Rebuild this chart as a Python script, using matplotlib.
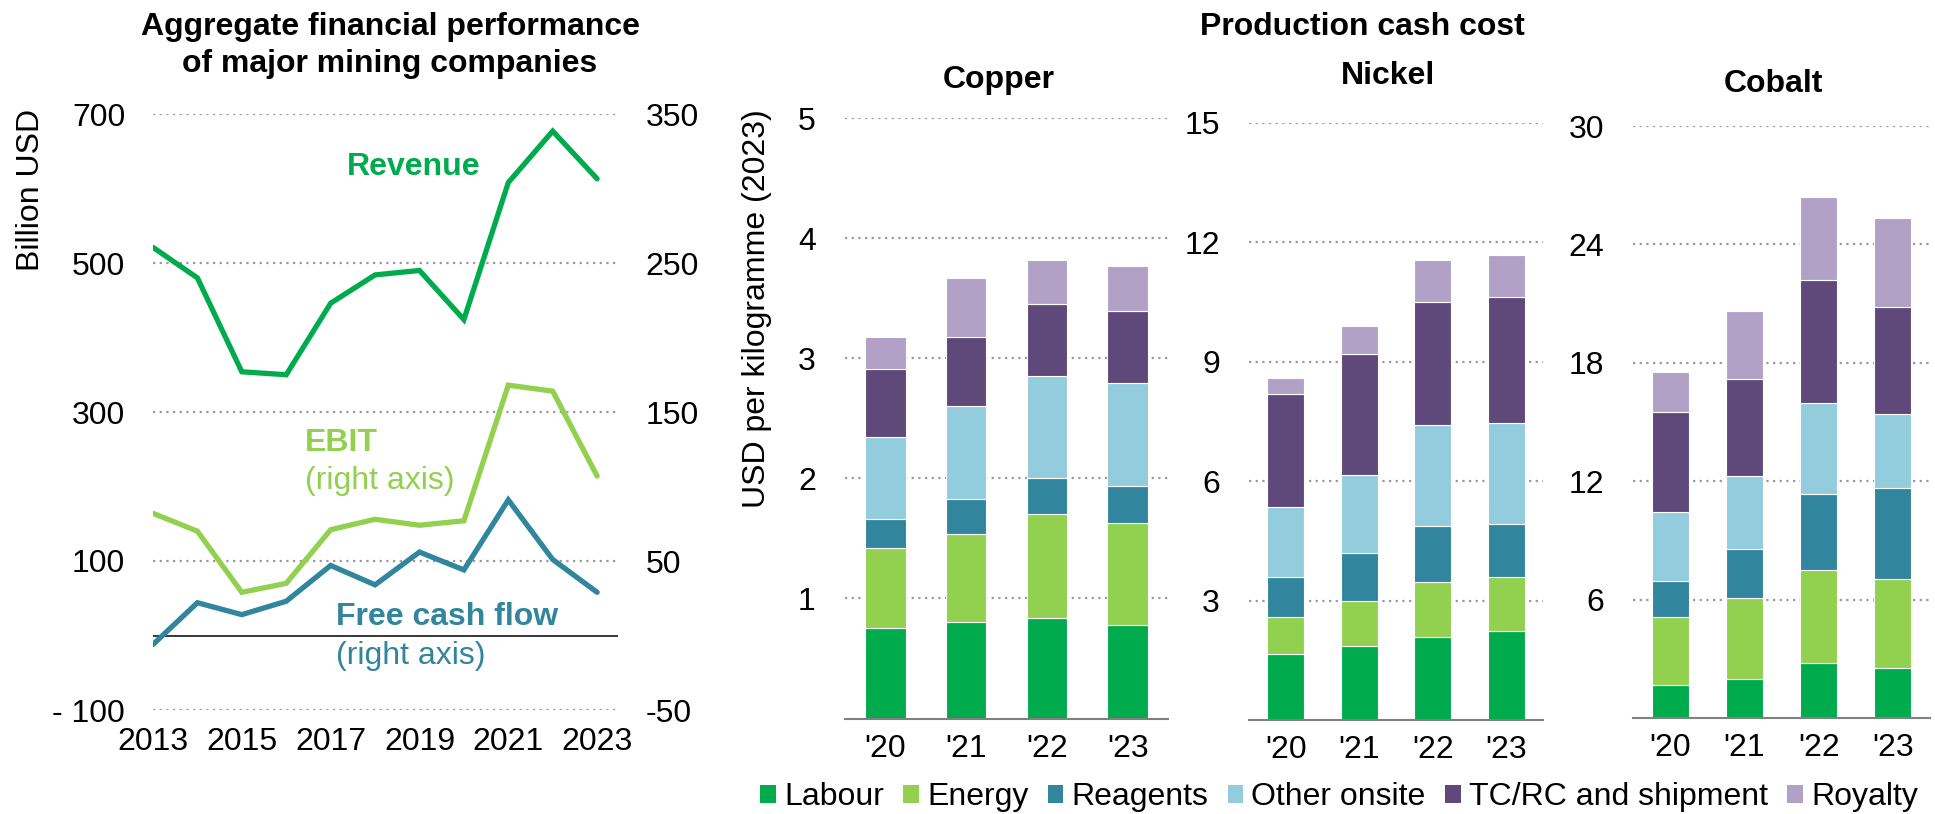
import matplotlib
matplotlib.use("Agg")
import matplotlib.pyplot as plt
from matplotlib.patches import Patch
import numpy as np

plt.rcParams['font.family'] = ['Liberation Sans', 'DejaVu Sans']
plt.rcParams['axes.unicode_minus'] = False
FS = 23

# ---- data: aggregate financial performance ----
years = [2013, 2014, 2015, 2016, 2017, 2018, 2019, 2020, 2021, 2022, 2023]
revenue = [521, 480, 354, 350, 446, 484, 490, 424, 608, 677, 613]      # left axis
ebit = [82, 70, 29, 35, 71, 78, 74, 77, 168, 164, 107]                 # right axis
free_cash_flow = [-6, 22, 14, 23, 47, 34, 56, 44, 91, 51, 29]          # right axis

# ---- data: production cash cost (USD/kg, 2023) ----
bar_years = ["'20", "'21", "'22", "'23"]
components = ["Labour", "Energy", "Reagents", "Other onsite", "TC/RC and shipment", "Royalty"]

copper_labour = [0.75, 0.80, 0.84, 0.78]
copper_energy = [0.67, 0.74, 0.86, 0.85]
copper_reagents = [0.24, 0.29, 0.30, 0.31]
copper_other = [0.68, 0.77, 0.85, 0.85]
copper_tcrc = [0.57, 0.58, 0.60, 0.60]
copper_royalty = [0.27, 0.49, 0.37, 0.38]

nickel_labour = [1.65, 1.87, 2.09, 2.24]
nickel_energy = [0.93, 1.11, 1.37, 1.35]
nickel_reagents = [1.01, 1.21, 1.41, 1.34]
nickel_other = [1.76, 1.97, 2.53, 2.52]
nickel_tcrc = [2.83, 3.03, 3.11, 3.19]
nickel_royalty = [0.42, 0.72, 1.05, 1.05]

cobalt_labour = [1.66, 2.00, 2.81, 2.55]
cobalt_energy = [3.44, 4.10, 4.71, 4.49]
cobalt_reagents = [1.84, 2.44, 3.83, 4.63]
cobalt_other = [3.49, 3.73, 4.63, 3.73]
cobalt_tcrc = [5.08, 4.92, 6.20, 5.41]
cobalt_royalty = [2.02, 3.44, 4.21, 4.53]

GREEN = "#00AB4E"
LGREEN = "#92D050"
TEAL = "#31859C"
LBLUE = "#93CDDD"
PURPLE = "#5F497A"
LPURPLE = "#B2A1C7"
comp_colors = [GREEN, LGREEN, TEAL, LBLUE, PURPLE, LPURPLE]
GRID = "#999999"

W, H = 1935, 814
fig = plt.figure(figsize=(W / 100, H / 100), dpi=100)


def rect(x0, x1, ytop, ybot):
    return [x0 / W, 1 - ybot / H, (x1 - x0) / W, (ybot - ytop) / H]


def dotted_grid(ax):
    ax.yaxis.grid(True, color=GRID, linestyle=(0, (1, 2)), linewidth=1.6)
    ax.xaxis.grid(False)
    ax.set_axisbelow(True)


# ---- left chart ----
ax = fig.add_axes(rect(153, 618, 114, 710))
ax2 = ax.twinx()
ax.set_xlim(2013, 2023.47)
ax.set_ylim(-100, 700)
ax2.set_ylim(-50, 350)
ax.set_yticks([-100, 100, 300, 500, 700])
ax.set_yticklabels(["- 100", "100", "300", "500", "700"])
ax2.set_yticks([-50, 50, 150, 250, 350])
ax.set_xticks([2013, 2015, 2017, 2019, 2021, 2023])
dotted_grid(ax)
for a in (ax, ax2):
    for s in a.spines.values():
        s.set_visible(False)
    a.tick_params(length=0, labelsize=FS)
ax.tick_params(axis="y", pad=20)
ax2.tick_params(axis="y", pad=20)
ax.tick_params(axis="x", pad=12)
ax.axhline(0, color="black", linewidth=1.1, zorder=2)

ax.plot(years, revenue, color=GREEN, lw=3.8, solid_capstyle="round", solid_joinstyle="miter", zorder=3)
ax2.plot(years, ebit, color=LGREEN, lw=3.8, solid_capstyle="round", solid_joinstyle="miter", zorder=3)
ax2.plot(years, free_cash_flow, color=TEAL, lw=3.8, solid_capstyle="round", solid_joinstyle="miter", zorder=3)

ax.text(2018.86, 629, "Revenue", color=GREEN, fontsize=FS, fontweight="bold", ha="center", va="center")
ax.text(2016.42, 258, "EBIT", color=LGREEN, fontsize=FS, fontweight="bold", ha="left", va="center")
ax.text(2016.42, 207, "(right axis)", color=LGREEN, fontsize=FS, ha="left", va="center")
ax.text(2017.12, 25, "Free cash flow", color=TEAL, fontsize=FS, fontweight="bold", ha="left", va="center")
ax.text(2017.12, -27, "(right axis)", color=TEAL, fontsize=FS, ha="left", va="center")

fig.text(390 / W, 1 - 27 / H, "Aggregate financial performance", fontsize=FS, fontweight="bold", ha="center", va="center")
fig.text(390 / W, 1 - 64 / H, "of major mining companies", fontsize=FS, fontweight="bold", ha="center", va="center")
fig.text(31 / W, 1 - 190 / H, "Billion USD", fontsize=FS, rotation=90, ha="center", va="center")

# ---- stacked bar charts ----
panels = [
    ("Copper", (845, 1168, 118, 718.5), 5, [1, 2, 3, 4, 5],
     [copper_labour, copper_energy, copper_reagents, copper_other, copper_tcrc, copper_royalty], 80),
    ("Nickel", (1249, 1543, 123, 720), 15, [3, 6, 9, 12, 15],
     [nickel_labour, nickel_energy, nickel_reagents, nickel_other, nickel_tcrc, nickel_royalty], 76),
    ("Cobalt", (1633, 1930, 126, 718), 30, [6, 12, 18, 24, 30],
     [cobalt_labour, cobalt_energy, cobalt_reagents, cobalt_other, cobalt_tcrc, cobalt_royalty], 84),
]

for title, (x0, x1, yt, yb), ymax, ticks, series, title_y in panels:
    bx = fig.add_axes(rect(x0, x1, yt, yb))
    pos = np.arange(len(bar_years))
    bottom = np.zeros(len(bar_years))
    for vals, col in zip(series, comp_colors):
        bx.bar(pos, vals, bottom=bottom, width=0.5, color=col, edgecolor="white", linewidth=0.8, zorder=3)
        bottom += np.array(vals)
    bx.set_xlim(-0.5, 3.5)
    bx.set_ylim(0, ymax)
    bx.set_yticks(ticks)
    bx.set_xticks(pos)
    bx.set_xticklabels(bar_years)
    dotted_grid(bx)
    for s in ["top", "right", "left"]:
        bx.spines[s].set_visible(False)
    bx.spines["bottom"].set_color("#808080")
    bx.spines["bottom"].set_linewidth(1.5)
    bx.spines["bottom"].set_zorder(4)
    bx.tick_params(length=0, labelsize=FS)
    bx.tick_params(axis="y", pad=21)
    bx.tick_params(axis="x", pad=11)
    fig.text((x0 + x1) / 2 / W - 8 / W, 1 - title_y / H, title, fontsize=FS, fontweight="bold",
             ha="center", va="center")

fig.text(1362 / W, 1 - 27 / H, "Production cash cost", fontsize=FS, fontweight="bold", ha="center", va="center")
fig.text(757 / W, 1 - 309 / H, "USD per kilogramme (2023)", fontsize=FS, rotation=90, ha="center", va="center")

handles = [Patch(facecolor=c, edgecolor="none") for c in comp_colors]
fig.legend(handles, components, loc="center left", bbox_to_anchor=(760 / W, 1 - 797 / H),
           ncol=6, frameon=False, fontsize=FS, handlelength=0.5, handleheight=0.5,
           handletextpad=0.25, columnspacing=0.6, borderpad=0, borderaxespad=0)

fig.savefig("out.png", dpi=100)
